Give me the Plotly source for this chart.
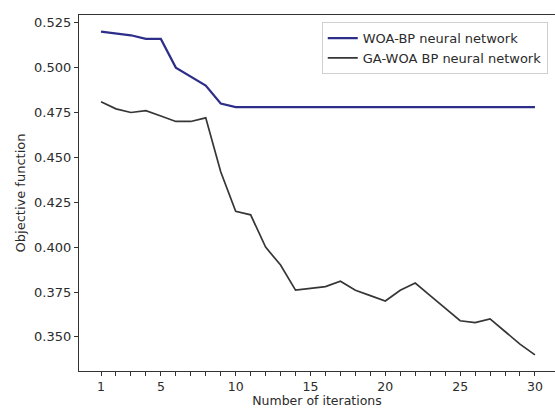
import plotly.graph_objects as go

iterations = list(range(1, 31))
woa_bp = [0.520, 0.519, 0.518, 0.516, 0.516, 0.500, 0.495, 0.490, 0.480, 0.478,
          0.478, 0.478, 0.478, 0.478, 0.478, 0.478, 0.478, 0.478, 0.478, 0.478,
          0.478, 0.478, 0.478, 0.478, 0.478, 0.478, 0.478, 0.478, 0.478, 0.478]
ga_woa_bp = [0.481, 0.477, 0.475, 0.476, 0.473, 0.470, 0.470, 0.472, 0.442, 0.420,
             0.418, 0.400, 0.390, 0.376, 0.377, 0.378, 0.381, 0.376, 0.373, 0.370,
             0.376, 0.380, 0.373, 0.366, 0.359, 0.358, 0.360, 0.353, 0.346, 0.340]
x_labels = [1, 5, 10, 15, 20, 25, 30]
y_ticks = [0.350, 0.375, 0.400, 0.425, 0.450, 0.475, 0.500, 0.525]

font_family = "DejaVu Sans"
text_color = "#2b2b2b"
fs = 13

fig = go.Figure()
fig.add_trace(go.Scatter(x=iterations, y=woa_bp, mode="lines",
                         name="WOA-BP neural network",
                         line=dict(color="#2d2d8a", width=2.2)))
fig.add_trace(go.Scatter(x=iterations, y=ga_woa_bp, mode="lines",
                         name="GA-WOA BP neural network",
                         line=dict(color="#363636", width=1.7)))

fig.update_layout(
    width=555, height=408,
    margin=dict(l=79, r=0, t=15, b=37),
    paper_bgcolor="white", plot_bgcolor="white",
    font=dict(family=font_family, size=fs, color=text_color),
    showlegend=True,
    legend=dict(x=0.51, y=0.98, xanchor="left", yanchor="top",
                bgcolor="rgba(255,255,255,0.9)", bordercolor="#d0d0d0", borderwidth=1,
                font=dict(size=fs, color=text_color), tracegroupgap=0,
                itemwidth=30),
)
fig.update_xaxes(
    range=[-0.47, 31.34],
    tickmode="array", tickvals=x_labels,
    ticktext=[str(v) for v in x_labels],
    ticks="outside", ticklen=4, tickwidth=1, tickcolor="#333",
    tickfont=dict(size=12.5),
    minor=dict(tickmode="array", tickvals=iterations, ticks="outside",
               ticklen=4, tickwidth=1, tickcolor="#333", showgrid=False),
    showline=True, linecolor="#333", linewidth=1.2, mirror=True,
    showgrid=False, zeroline=False,
    title=dict(text="Number of iterations", standoff=4, font=dict(size=12.5)),
)
fig.update_yaxes(
    range=[0.331, 0.5293],
    tickmode="array", tickvals=y_ticks, tickformat=".3f",
    ticks="outside", ticklen=4, tickwidth=1, tickcolor="#333",
    showline=True, linecolor="#333", linewidth=1.2,
    showgrid=False, zeroline=False,
    title=dict(text="Objective function", standoff=5, font=dict(size=fs)),
)

fig.write_html("out.html", config={"displayModeBar": False},
               post_script="document.body.style.margin='0';document.body.style.overflow='hidden';")
